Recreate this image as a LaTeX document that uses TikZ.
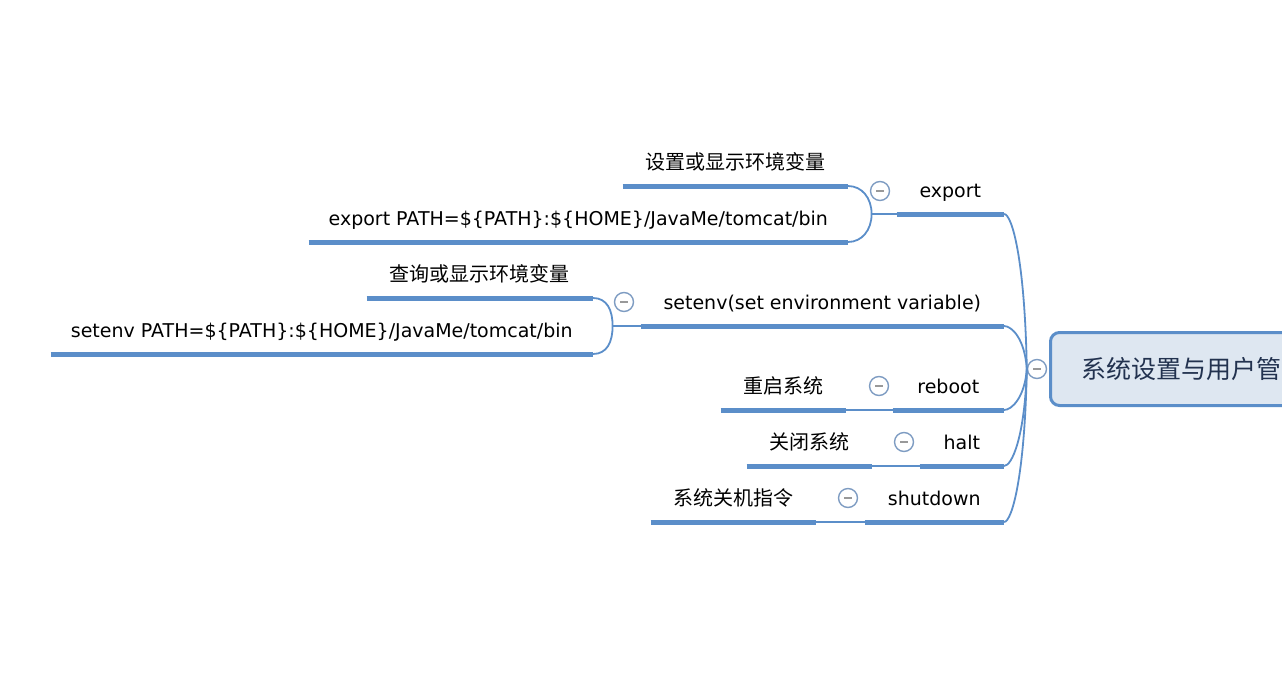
\documentclass[tikz,border=0pt]{standalone}
\usepackage{fontspec}
\setmainfont{DejaVu Sans}
\newfontfamily\cjk{Noto Sans CJK SC}
\usetikzlibrary{calc}
\definecolor{barblue}{HTML}{5B8EC9}
\definecolor{foldblue}{HTML}{7E9CC2}
\definecolor{rootfill}{HTML}{DEE7F1}
\definecolor{rootnavy}{HTML}{22324F}

\tikzset{
  topic/.style={font=\fontsize{19}{21}\selectfont, inner xsep=0pt, inner ysep=0pt,
    text height=13pt, text depth=16pt, anchor=south east},
  cjktopic/.style={topic, font=\cjk\fontsize{20}{22}\selectfont},
  bar/.style={barblue, line width=5pt},
  link/.style={barblue, line width=1.8pt},
  fold/.style={circle, draw=foldblue, line width=1.4pt, minimum size=19pt, inner sep=0pt, fill=white,
    path picture={\draw[gray!80, line width=1.2pt] ([xshift=-4pt]path picture bounding box.center)
      -- ([xshift=4pt]path picture bounding box.center);}},
  central/.style={rounded corners=9pt, draw=barblue, line width=3pt, fill=rootfill, anchor=west,
    minimum height=73pt, inner xsep=31pt, text=rootnavy, font=\cjk\fontsize{25}{28}\selectfont}
}

\begin{document}
\begin{tikzpicture}[x=1pt, y=-1pt]
\useasboundingbox (0,0) rectangle (1282,688);
\clip (0,0) rectangle (1282,688);

% central topic
\node[central] (root) at (1049,369) {系统设置与用户管};
\node[fold] (rootfold) at (1037,369) {};

% main branches
\node[topic, minimum width=107pt] (export) at (1004,214) {export};
\node[topic, minimum width=363pt] (setenv) at (1004,326) {setenv(set environment variable)};
\node[topic, minimum width=111pt] (reboot) at (1004,410) {reboot};
\node[topic, minimum width=84pt] (halt) at (1004,466) {halt};
\node[topic, minimum width=139pt] (shutdown) at (1004,522) {shutdown};

% sub topics
\node[cjktopic, minimum width=225pt] (setvar) at (848,186) {设置或显示环境变量};
\node[topic, minimum width=539pt] (exportcmd) at (848,242) {export PATH=\$\{PATH\}:\$\{HOME\}/JavaMe/tomcat/bin};
\node[cjktopic, minimum width=226pt] (queryvar) at (593,298) {查询或显示环境变量};
\node[topic, minimum width=542pt] (setenvcmd) at (593,354) {setenv PATH=\$\{PATH\}:\$\{HOME\}/JavaMe/tomcat/bin};
\node[cjktopic, minimum width=125pt] (rebootnote) at (846,410) {重启系统};
\node[cjktopic, minimum width=125pt] (haltnote) at (872,466) {关闭系统};
\node[cjktopic, minimum width=165pt] (shutdownnote) at (816,522) {系统关机指令};

\foreach \n in {export,setenv,reboot,halt,shutdown,setvar,exportcmd,queryvar,setenvcmd,rebootnote,haltnote,shutdownnote}
  \draw[bar] (\n.south west) -- (\n.south east);

% curves from the centre
\foreach \n/\dy in {export/-110,setenv/-30,reboot/28,halt/68,shutdown/107}
  \draw[link] (rootfold.west) .. controls +(-2,\dy) and +(8,0) .. (\n.south east);

% brackets to sub topics
\draw[link] (export.south west) -- ++(-25,0) coordinate (exportjoin);
\draw[link] (setvar.south east) .. controls +(14,0) and +(0,-16) .. (exportjoin)
  .. controls +(0,16) and +(14,0) .. (exportcmd.south east);
\draw[link] (setenv.south west) -- ++(-28,0) coordinate (setenvjoin);
\draw[link] (queryvar.south east) .. controls +(14,0) and +(0,-16) .. (setenvjoin)
  .. controls +(0,16) and +(14,0) .. (setenvcmd.south east);
\draw[link] (rebootnote.south east) -- (reboot.south west);
\draw[link] (haltnote.south east) -- (halt.south west);
\draw[link] (shutdownnote.south east) -- (shutdown.south west);

% fold markers
\node[fold] (exportfold) at (880,191) {};
\node[fold] (setenvfold) at (624,302) {};
\node[fold] (rebootfold) at (879,386) {};
\node[fold] (haltfold) at (904,442) {};
\node[fold] (shutdownfold) at (848,498) {};
\end{tikzpicture}
\end{document}
